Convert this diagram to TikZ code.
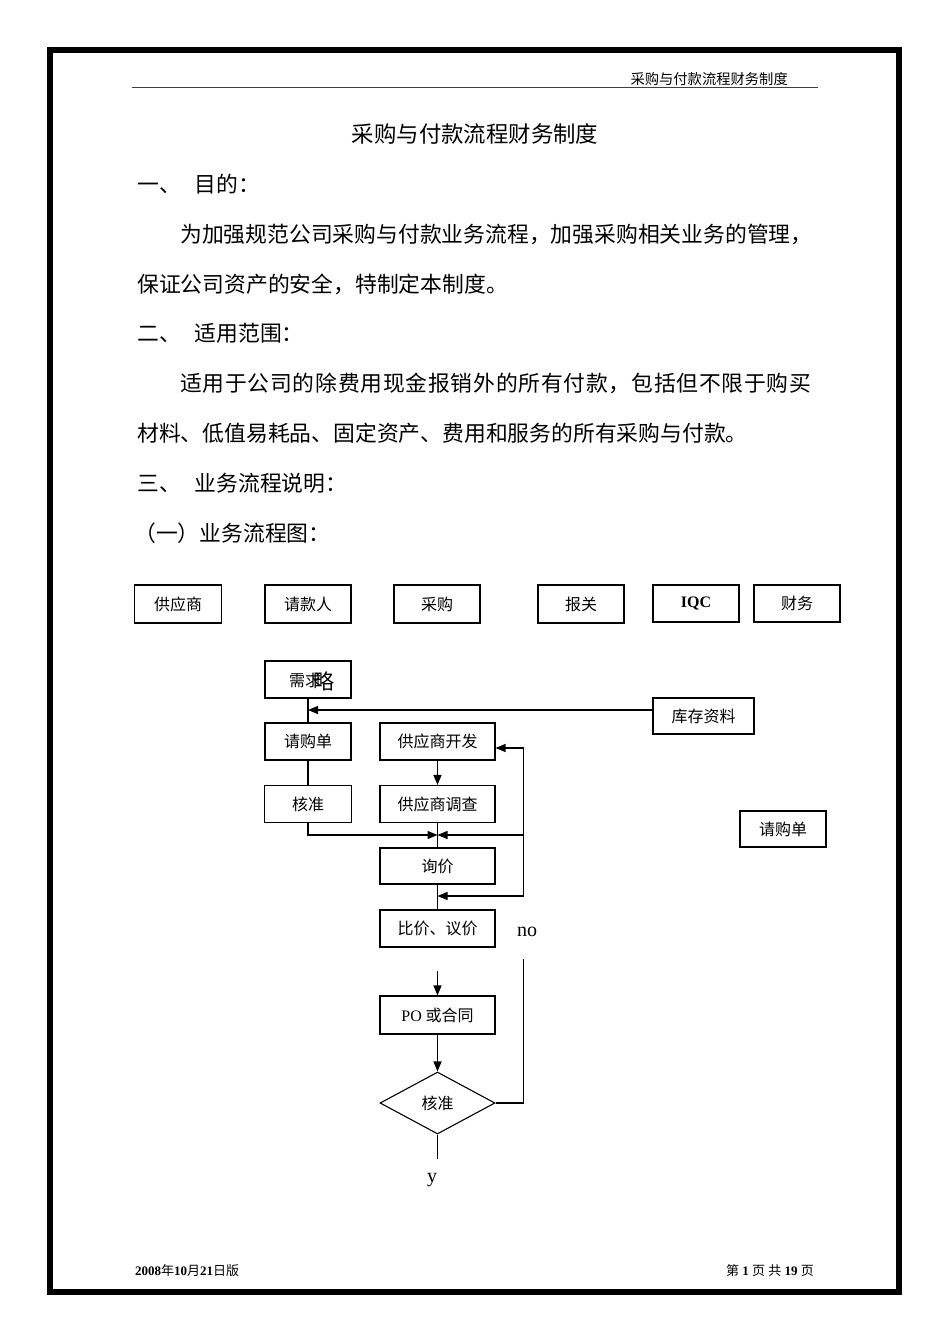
\documentclass[tikz,border=0pt]{standalone}
\usepackage{fontspec}
\setmainfont{Liberation Serif}
\newfontfamily\cjk{Noto Sans CJK SC}
\usetikzlibrary{shapes.geometric,arrows.meta}
\begin{document}
\begin{tikzpicture}[x=1pt,y=-1pt,
  box/.style={draw,line width=1.1pt,inner sep=0pt,font=\cjk\fontsize{16}{16}\selectfont},
  arr/.style={line width=1.2pt,-{Triangle[length=10pt,width=8pt]}},
  ln/.style={line width=1.2pt},
  body/.style={anchor=west,inner sep=0pt,font=\cjk\fontsize{21.8}{22}\selectfont},
  lbl/.style={inner sep=0pt,font=\fontsize{20}{20}\selectfont}]
\useasboundingbox (0,0) rectangle (950,1344);
% page frame
\draw[line width=6pt] (50,50) rectangle (899,1292);
% header
\node[anchor=east,inner sep=0pt,font=\cjk\fontsize{14.3}{15}\selectfont] (hdr) at (788,79) {采购与付款流程财务制度};
\draw[line width=1.4pt,black!75] (132,87.5) -- (818,87.5);
% title and body
\node[inner sep=0pt,font=\cjk\fontsize{22.4}{23}\selectfont] (title) at (475,134) {采购与付款流程财务制度};
\node[body] (t1) at (137,184) {一、\hspace{14pt}目的：};
\node[body] (t2) at (180,234) {为加强规范公司采购与付款业务流程，加强采购相关业务的管理，};
\node[body] (t3) at (137,284) {保证公司资产的安全，特制定本制度。};
\node[body] (t4) at (137,333) {二、\hspace{14pt}适用范围：};
\node[body] (t5) at (180,383) {\addfontfeature{LetterSpace=3.5}适用于公司的除费用现金报销外的所有付款，包括但不限于购买};
\node[body] (t6) at (137,433) {材料、低值易耗品、固定资产、费用和服务的所有采购与付款。};
\node[body] (t7) at (137,483) {三、\hspace{14pt}业务流程说明：};
\node[body] (t8) at (134,533) {（一）业务流程图：};
% lane header boxes
\node[box,minimum width=87pt,minimum height=38pt] (sup) at (178,604) {供应商};
\node[box,minimum width=86pt,minimum height=38pt] (qkr) at (308,604) {请款人};
\node[box,minimum width=86pt,minimum height=38pt] (cg) at (437,604) {采购};
\node[box,minimum width=86pt,minimum height=38pt] (bg) at (581,604) {报关};
\node[box,minimum width=86pt,minimum height=37pt,font=\bfseries\fontsize{16}{16}\selectfont] (iqc) at (696,603.5) {IQC};
\node[box,minimum width=86pt,minimum height=37pt] (cw) at (797,603.5) {财务};
% flow boxes
\node[box,minimum width=86pt,minimum height=37pt] (xq) at (308,679.5) {};
\node[inner sep=0pt,font=\cjk\fontsize{16}{16}\selectfont] (xqt) at (305,680) {需求};
\node[inner sep=0pt,font=\cjk\fontsize{21}{21}\selectfont] (xqo) at (324,681) {略};
\node[box,minimum width=86pt,minimum height=37pt] (qgd) at (308,741.5) {请购单};
\node[box,minimum width=115pt,minimum height=37pt] (gyskf) at (437.5,741.5) {供应商开发};
\node[box,minimum width=87pt,minimum height=37pt] (hz) at (308,804) {核准};
\node[box,minimum width=115pt,minimum height=37pt] (gysdc) at (437.5,804) {供应商调查};
\node[box,minimum width=115pt,minimum height=36pt] (xj) at (437.5,866) {询价};
\node[box,minimum width=115pt,minimum height=37pt] (bj) at (437.5,928.5) {比价、议价};
\node[box,minimum width=101pt,minimum height=36pt] (kczl) at (703.5,716) {库存资料};
\node[box,minimum width=86pt,minimum height=36pt] (qgd2) at (783,829) {请购单};
\node[box,minimum width=115pt,minimum height=38pt] (po) at (437.5,1015) {{\rmfamily PO} 或合同};
\node[box,diamond,aspect=1.85,minimum width=115pt,minimum height=62pt] (dia) at (437.5,1103) {核准};
\node[lbl] (no) at (527,932) {no};
\node[lbl] (yy) at (432,1180) {y};
% coordinates
\coordinate (j1) at (308,710);
\coordinate (j2) at (437.5,835);
\coordinate (j3) at (437.5,896);
\coordinate (r1) at (523.5,748);
\coordinate (r2) at (523.5,835);
\coordinate (r3) at (523.5,896);
\coordinate (r4) at (523.5,959);
\coordinate (p0) at (437.5,971);
\coordinate (d1) at (437.5,1159);
% connectors
\draw[ln] (xq.south) -- (qgd.north);
\draw[arr] (kczl.west|-j1) -- (j1);
\draw[ln] (qgd.south) -- (hz.north);
\draw[arr] (hz.south) |- (j2);
\draw[arr] (gyskf.south) -- (gysdc.north);
\draw[ln] (gysdc.south) -- (xj.north);
\draw[ln] (xj.south) -- (bj.north);
\draw[arr] (r3) -- (r1) -- (gyskf.east|-r1);
\draw[arr] (r2) -- (j2);
\draw[arr] (r3) -- (j3);
\draw[arr] (p0) -- (po.north);
\draw[arr] (po.south) -- (dia.north);
\draw[ln] (dia.east) -| (r4);
\draw[ln] (dia.south) -- (d1);
% footer
\node[anchor=west,inner sep=0pt,font=\fontsize{13}{13}\selectfont] (fl) at (135,1271) {{\bfseries 2008}{\cjk 年}{\bfseries 10}{\cjk 月}{\bfseries 21}{\cjk 日版}};
\node[anchor=east,inner sep=0pt,font=\fontsize{13}{13}\selectfont] (fr) at (814,1271) {{\cjk 第} {\bfseries 1} {\cjk 页} {\cjk 共} {\bfseries 19} {\cjk 页}};
\end{tikzpicture}
\end{document}
